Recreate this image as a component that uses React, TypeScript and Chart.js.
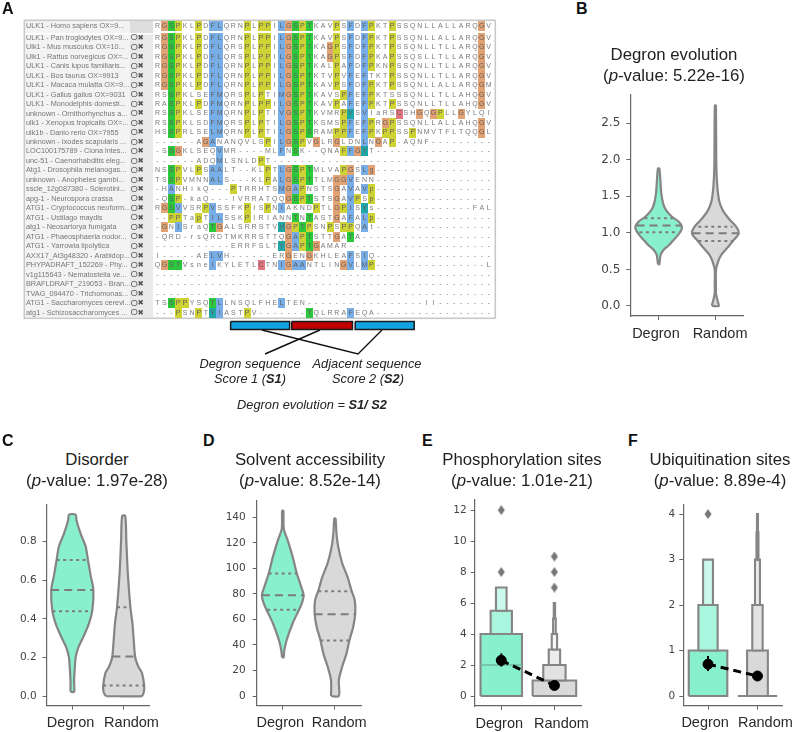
import React, { useEffect, useRef } from "react";
import { Chart, registerables } from "chart.js";

Chart.register(...registerables);

/* ---------- Panel A: alignment ---------- */
const sequenceNames = [
  "ULK1 - Homo sapiens OX=9...",
  "ULK1 - Pan troglodytes OX=9...",
  "Ulk1 - Mus musculus OX=10...",
  "Ulk1 - Rattus norvegicus OX=...",
  "ULK1 - Canis lupus familiaris...",
  "ULK1 - Bos taurus OX=9913",
  "ULK1 - Macaca mulatta OX=9...",
  "ULK1 - Gallus gallus OX=9031",
  "ULK1 - Monodelphis domesti...",
  "unknown - Ornithorhynchus a...",
  "ulk1 - Xenopus tropicalis OX=...",
  "ulk1b - Danio rerio OX=7955",
  "unknown - Ixodes scapularis ...",
  "LOC100175789 - Ciona intes...",
  "unc-51 - Caenorhabditis eleg...",
  "Atg1 - Drosophila melanogas...",
  "unknown - Anopheles gambi...",
  "sscle_12g087380 - Sclerotini...",
  "apg-1 - Neurospora crassa",
  "ATG1 - Cryptococcus neoform...",
  "ATG1 - Ustilago maydis",
  "atg1 - Neosartorya fumigata",
  "ATG1 - Phaeosphaeria nodor...",
  "ATG1 - Yarrowia lipolytica",
  "AXX17_At3g48320 - Arabidop...",
  "PHYPADRAFT_152269 - Phy...",
  "v1g115643 - Nematostella ve...",
  "BRAFLDRAFT_219053 - Bran...",
  "TVAG_094470 - Trichomonas...",
  "ATG1 - Saccharomyces cerevi...",
  "atg1 - Schizosaccharomyces ...",
];

const residueRows = [
  "RGSPKLPDFL QRNPLPPILG SPTKAVPSFD FPKTPSSQNL LALLARQGV",
  "RGSPKLPDFL QRNPLPPILG SPTKAVPSFD FPKTPSSQNL LALLARQGV",
  "RGSPKLPDFL QRSPLPPILG SPTKAGPSFD FPKTPSSQNL LTLLARQGV",
  "RGSPKLPDFL QRSPLPPILG SPTKAGPSFD FPKAPSSQSL LTLLARQGV",
  "RGSPKLPDFL QRNPLPPILG SPTKALPAFD FPKNPSSQNL LTLLARQGV",
  "RGSPKLPDFL QRNPLPPILG SPTKTVPVFE FTKTPSSQNL LTLLARQGV",
  "RGSPKLPDFL QRNPLPPILG SPTKAVPSFD FPKTPSSQNL LALLARQGM",
  "RSSPKLSEFM QRSPLPTIMG SPTKAVSPFE FPKTSSSQNL LTLLAHQGV",
  "RASPKLPDFM QRNPLPPILG SPTKAVPAFE FPKTPSSQNL LTLLAHQGV",
  "RSSPKLSEFM QRNPLPTIVG SPTKVMRPYS VIaRSCSHGQ GPLLGYLQI",
  "RSSPKLSDFM QRSPLPTILG SPTKSMSPFE FPRGPSSQNL LALLAHQGV",
  "HSSPRLSELM QRNPLPTILG SPSRAMPPFE FPKPPSSPNM VTFLTQQGL",
  "------AGAN ANQVLSPILG SPVGLRGLDN LNGAP-AQNF ---------",
  "-SSGKLSEQV MR----MLFN SK--QNAFFG YT-------- ---------",
  "------ADQM LSNLDPT--- ---------- ---------- ---------",
  "NSSPVLPSAA LT--KLPTLG SPTMLVAPGS Lg-------- ---------",
  "TSSPVMNNAL S---KLPALG SPTTLMGGVE NN-------- ---------",
  "-HANHikQ-- -PTRRHTSMG APNSTSGAVA Vp-------- ---------",
  "-QSP-kaQ-- -IVRRATQQG SPTSTSGAVP Sp-------- ---------",
  "RGSVVSRPVS SFKPISPNIA KNDPTLGPIS Ys-------- ------FAL",
  "--PPTapTIL SSKPIRIANN TNTASTGAFA Lp-------- ---------",
  "-GNISraQTG ALSRRSTVHG PTPSNPSPPQ At-------- ---------",
  "-QRD-rsQRD TMKRRSTTQG APTSTTGATA ---------- ---------",
  "---------- -ERRFSLTYG APTGAMAR-- ---------- ---------",
  "I-----AELV H------ERG ENGKHLEAFS IQ-------- ---------",
  "QGSTVsneIK YLETLCTNIG AANTLINGVL MP-------- --------L",
  "---------- ---------- ---------- ---------- ---------",
  "---------- ---------- ---------- ---------- ---------",
  "---------- ---------- ---------- ---------- ---------",
  "TSSPPYSQTL LNSQLFHELT EN-------- ---------I I--------",
  "---PSNPTYI ASTPV----- --TQLRRAFE QA-------- ---------",
];

const colourMasks = [
  ".ogy..y.bb ...y.yy.bo gyg...y.b. by..y..... .......o.",
  ".ogy..y.bb ...y.yy.bo gyg...y.b. by..y..... .......o.",
  ".ogy..y.bb ...y.yy.bo gyg..oy.b. by..y..... .......o.",
  ".ogy..y.bb ...y.yy.bo gyg..oy.b. by..y..... .......o.",
  ".ogy..y.bb ...y.yy.bo gyg...y.b. by..y..... .......o.",
  ".ogy..y.bb ...y.yy.bo gyg...y.b. b...y..... .......o.",
  ".ogy..y.bb ...y.yy.bo gyg...y.b. by..y..... .......o.",
  "..gy....bb ...y.y..bo gyg....yb. by........ .......o.",
  "..gy..y.bb ...y.yy.bo gyg...y.b. by..y..... .......o.",
  "..gy....bb ...y.y..bo gyg....yc. b....r..o. oy..o....",
  "..gy....bb ...y.y..bo gyg....yb. by.oy..... .......o.",
  "..gy....bb ...y.y..bo gyg...yyb. by.yy..y.. .......o.",
  ".......ob. ......y.bo gy.o..o... b.o.y..... .........",
  "..go.....b ........b. g......ybo c......... .........",
  ".........b .....y.... .......... .......... .........",
  "..gy..y.bb ......y.bo gyg....yo. bo........ .........",
  "..gy....bb ......y.bo gyg...oob. .......... .........",
  "..b....... .y......bo by....o.b. by........ .........",
  "..gy...... .........o gyg...o.by .y........ .........",
  ".ogb...yb. ...y..y.b. ...y..oyb. c......... .........",
  "..yy..y.bb ...y...... g.g...o.b. by........ .........",
  ".o.b....go ........co ygy..y.yy. b......... .........",
  ".......... .........o byg...o.g. .......... .........",
  ".......... ........co bygo...... .......... .........",
  "........bb .........o ..o.....b. b......... .........",
  ".ogg....b. .....r..bo bb.....ob. by........ .........",
  ".......... .......... .......... .......... .........",
  ".......... .......... .......... .......... .........",
  ".......... .......... .......... .......... .........",
  "..gyy...gb ........b. .......... .......... .........",
  "...y..y.cb ...y...... ..g.....b. .......... .........",
];

const residueColours: Record<string, string> = {
  o: "#e2a273",
  g: "#2cc83c",
  y: "#cfd235",
  b: "#78aee8",
  c: "#20a8a8",
  r: "#e2757f",
};

const blockColumns = [
  [10.6, 19.15],
  [19.45, 28.25],
  [28.65, 37.2],
];
const blockColours = ["#12a4e2", "#c00000", "#12a4e2"];

/* ---------- Panels B to D: violins ---------- */
const bDegronLevels = [0.57, 0.62, 0.7, 0.77, 0.83, 0.9, 0.97, 1.04, 1.085, 1.15, 1.22, 1.31, 1.4, 1.54, 1.72, 1.88];
const bDegronWidths = [0.012, 0.02, 0.035, 0.09, 0.18, 0.26, 0.34, 0.4, 0.41, 0.36, 0.235, 0.13, 0.08, 0.047, 0.03, 0.012];
const bRandomLevels = [0, 0.04, 0.1, 0.17, 0.3, 0.5, 0.63, 0.7, 0.77, 0.83, 0.9, 0.97, 1.02, 1.085, 1.15, 1.22, 1.31, 1.43, 1.63, 1.9, 2.74];
const bRandomWidths = [0.06, 0.05, 0.03, 0.012, 0.01, 0.012, 0.06, 0.105, 0.18, 0.25, 0.32, 0.4, 0.41, 0.365, 0.29, 0.21, 0.13, 0.07, 0.035, 0.018, 0.009];
const bDegronQuartiles = [[1.01, 0.34], [1.1, 0.39], [1.2, 0.25]];
const bRandomQuartiles = [[0.89, 0.3], [0.995, 0.4], [1.085, 0.3]];

const cDegronLevels = [0.022, 0.08, 0.15, 0.2, 0.25, 0.31, 0.377, 0.445, 0.55, 0.62, 0.705, 0.775, 0.843, 0.912, 0.94];
const cDegronWidths = [0.035, 0.035, 0.05, 0.065, 0.115, 0.22, 0.325, 0.39, 0.41, 0.36, 0.305, 0.26, 0.16, 0.08, 0.065];
const cRandomLevels = [0, 0.02, 0.05, 0.12, 0.15, 0.2, 0.29, 0.377, 0.46, 0.636, 0.81, 0.933];
const cRandomWidths = [0.35, 0.39, 0.4, 0.355, 0.29, 0.225, 0.195, 0.17, 0.13, 0.08, 0.05, 0.03];
const cDegronQuartiles = [[0.44, 0.385], [0.55, 0.41], [0.705, 0.305]];
const cRandomQuartiles = [[0.055, 0.4], [0.205, 0.22], [0.46, 0.13]];

const dDegronLevels = [30.3, 36, 44, 57, 67, 72.6, 79, 86, 96, 109, 122, 131, 145];
const dDegronWidths = [0.015, 0.03, 0.075, 0.19, 0.305, 0.365, 0.4, 0.35, 0.27, 0.19, 0.095, 0.02, 0.012];
const dRandomLevels = [0, 12.5, 23, 33, 44, 54, 65, 75, 83, 93.5, 104, 117, 127.5, 139];
const dRandomWidths = [0.075, 0.075, 0.14, 0.22, 0.28, 0.35, 0.39, 0.38, 0.315, 0.24, 0.14, 0.063, 0.03, 0.012];
const dDegronQuartiles = [[67.5, 0.3], [79, 0.4], [96, 0.27]];
const dRandomQuartiles = [[43.5, 0.28], [64, 0.39], [82, 0.32]];

/* ---------- Panels E and F: letter-value boxes ---------- */
const eDegronBoxes = [[0, 4, 0.39], [4, 5.5, 0.2], [5.5, 7, 0.1]];
const eRandomBoxes = [[0, 1, 0.41], [1, 2, 0.21], [2, 3, 0.107], [3, 4, 0.05], [4, 5, 0.025], [5, 6, 0.012]];
const eDegronOutliers = [8, 12];
const eRandomOutliers = [7, 8, 9];
const eMedian = 2;
const eMeans = [2.3, 0.68];
const eDegronError = [1.9, 2.75];

const fDegronBoxes = [[0, 1, 0.39], [1, 2, 0.195], [2, 3, 0.1]];
const fRandomBoxes = [[0, 1, 0.21], [1, 2, 0.105], [2, 3, 0.05], [3, 3.6, 0.02], [3.6, 4, 0.01]];
const fDegronOutliers = [4];
const fRandomFloorWidth = 0.4;
const fMeans = [0.7, 0.44];
const fDegronError = [0.55, 0.88];

const categories = ["Degron", "Random"];
const bTicks = ["0.0", "0.5", "1.0", "1.5", "2.0", "2.5"];
const cTicks = ["0.0", "0.2", "0.4", "0.6", "0.8"];
const dTicks = ["0", "20", "40", "60", "80", "100", "120", "140"];
const eTicks = ["0", "2", "4", "6", "8", "10", "12"];
const fTicks = ["0", "1", "2", "3", "4"];

const MINT = "#88f0cd";
const GREY_FILL = "#d9d9d9";
const mintShades = ["#88f0cd", "#aaf5dd", "#ccf9ec"];
const greyShades = ["#d9d9d9", "#e2e2e2", "#ececec", "#f6f6f6", "#f6f6f6", "#f6f6f6"];
const EDGE = "#858585";

/* ---------- Helpers ---------- */
const outline = (centre: number, levels: number[], widths: number[]) => {
  const left = levels.map((y, i) => ({ x: centre - widths[i], y }));
  const right = levels.map((y, i) => ({ x: centre + widths[i], y })).reverse();
  return [...left, ...right, left[0]];
};

const violinSets = (centre: number, levels: number[], widths: number[], quartiles: number[][], fill: string) => [
  {
    data: outline(centre, levels, widths),
    showLine: true,
    fill: "shape",
    backgroundColor: fill,
    borderColor: EDGE,
    borderWidth: 2.2,
    tension: 0.28,
    pointRadius: 0,
  },
  ...quartiles.map(([y, w], i) => ({
    data: [{ x: centre - w, y }, { x: centre + w, y }],
    showLine: true,
    borderColor: "#7c7c7c",
    borderWidth: 2,
    borderDash: i === 1 ? [8, 5] : [3, 3.5],
    pointRadius: 0,
    fill: false,
  })),
];

const boxSets = (centre: number, boxes: number[][], shades: string[]) =>
  boxes.map(([lo, hi, w], i) => ({
    data: [
      { x: centre - w, y: lo },
      { x: centre - w, y: hi },
      { x: centre + w, y: hi },
      { x: centre + w, y: lo },
      { x: centre - w, y: lo },
    ],
    showLine: true,
    fill: "shape",
    backgroundColor: shades[i],
    borderColor: EDGE,
    borderWidth: 2.1,
    tension: 0,
    pointRadius: 0,
  }));

const thinDiamond = () => {
  const c = document.createElement("canvas");
  c.width = 8;
  c.height = 10;
  const g = c.getContext("2d")!;
  g.fillStyle = "#777777";
  g.beginPath();
  g.moveTo(4, 0);
  g.lineTo(7.5, 5);
  g.lineTo(4, 10);
  g.lineTo(0.5, 5);
  g.closePath();
  g.fill();
  return c;
};

const outlierSet = (centre: number, values: number[]) => ({
  data: values.map((y) => ({ x: centre, y })),
  showLine: false,
  pointStyle: thinDiamond(),
  pointRadius: 5,
});

const meanSets = (means: number[], error: number[]) => [
  {
    data: [{ x: 0, y: means[0] }, { x: 1, y: means[1] }],
    showLine: true,
    borderColor: "#000000",
    borderWidth: 3,
    borderDash: [8, 5],
    pointRadius: 0,
    fill: false,
  },
  {
    data: [{ x: 0, y: error[0] }, { x: 0, y: error[1] }],
    showLine: true,
    borderColor: "#000000",
    borderWidth: 2,
    pointRadius: 0,
    fill: false,
  },
  {
    data: [{ x: 0, y: means[0] }, { x: 1, y: means[1] }],
    showLine: false,
    backgroundColor: "#000000",
    borderColor: "#000000",
    pointRadius: 5,
  },
];

const inOrder = (sets: any[]) => sets.map((s, i) => ({ clip: false, order: sets.length - i, ...s }));

type Frame = {
  box: number[];
  left: number;
  right: number;
  top: number;
  bottom: number;
  yMin: number;
  yMax: number;
  labelAt: number[];
  tickFont: number;
  tickPad: number;
};

const makePanel = (canvas: HTMLCanvasElement, frame: Frame, ticks: string[], datasets: any[]) => {
  const [cx, cy, cw, ch] = frame.box;
  const xSlots = [
    { value: 0, label: "", mark: true },
    { value: frame.labelAt[0], label: categories[0], mark: false },
    { value: 1, label: "", mark: true },
    { value: frame.labelAt[1], label: categories[1], mark: false },
  ].sort((a, b) => a.value - b.value);
  return new Chart(canvas, {
    type: "scatter",
    data: { datasets: inOrder(datasets) },
    options: {
      animation: false,
      responsive: false,
      devicePixelRatio: 1,
      layout: {
        padding: { left: 0, top: frame.top - cy, right: cx + cw - frame.right, bottom: 0 },
      },
      plugins: { legend: { display: false }, tooltip: { enabled: false }, title: { display: false } },
      scales: {
        x: {
          type: "linear",
          min: -0.5,
          max: 1.5,
          afterFit: (s: any) => {
            s.height = cy + ch - frame.bottom;
          },
          afterBuildTicks: (s: any) => {
            s.ticks = xSlots.map((t) => ({ value: t.value }));
          },
          grid: {
            drawOnChartArea: false,
            drawTicks: true,
            tickLength: 4,
            tickColor: (c: any) => (xSlots[c.index]?.mark ? "#666" : "rgba(0,0,0,0)"),
            tickWidth: 1,
          },
          border: { display: true, color: "#666", width: 1.2 },
          ticks: {
            autoSkip: false,
            maxRotation: 0,
            padding: 5,
            color: "#2a2a2a",
            font: { family: "Liberation Sans", size: 14.5 },
            callback: (_v: any, i: number) => xSlots[i].label,
          },
        },
        y: {
          type: "linear",
          min: frame.yMin,
          max: frame.yMax,
          afterFit: (s: any) => {
            s.width = frame.left - cx;
          },
          afterBuildTicks: (s: any) => {
            s.ticks = ticks.map((t) => ({ value: Number(t) }));
          },
          grid: { drawOnChartArea: false, drawTicks: true, tickLength: 4, tickColor: "#666", tickWidth: 1 },
          border: { display: true, color: "#666", width: 1.2 },
          ticks: {
            autoSkip: false,
            padding: frame.tickPad,
            color: "#444",
            font: { family: "DejaVu Sans", size: frame.tickFont },
            callback: (v: any) => ticks.find((t) => Number(t) === Number(v)) ?? "",
          },
        },
      },
    },
  } as any);
};

const frameB: Frame = { box: [580, 75, 215, 275], left: 630.3, right: 743.7, top: 95, bottom: 316, yMin: -0.137, yMax: 2.886, labelAt: [-0.048, 1.083], tickFont: 12, tickPad: 6 };
const frameC: Frame = { box: [0, 485, 200, 247], left: 46.6, right: 149.4, top: 505, bottom: 705.7, yMin: -0.05, yMax: 0.99, labelAt: [-0.035, 1.152], tickFont: 10.5, tickPad: 6 };
const frameD: Frame = { box: [200, 480, 210, 252], left: 256.7, right: 361, top: 501, bottom: 705.7, yMin: -7.6, yMax: 152.8, labelAt: [-0.047, 1.082], tickFont: 10.5, tickPad: 7 };
const frameE: Frame = { box: [420, 480, 190, 252], left: 474.7, right: 581, top: 500, bottom: 706, yMin: -0.645, yMax: 12.65, labelAt: [-0.038, 1.132], tickFont: 10.5, tickPad: 4 };
const frameF: Frame = { box: [610, 485, 190, 247], left: 683.3, right: 787, top: 505, bottom: 705.7, yMin: -0.213, yMax: 4.2, labelAt: [-0.058, 1.16], tickFont: 10.5, tickPad: 4 };

/* ---------- Panel A chart ---------- */
const COL0 = 157.5;
const COL_W = 6.9;
const ROW1 = 28.22;
const ROW_H = 9.48;
const A_INSET = 10;
const A_W = 570;
const A_H = 360;
const rowValue = (i: number) => (i === 0 ? -0.2 : i);
const clean = (s: string) => s.replace(/ /g, "");
const xOfPixel = (p: number) => (p - COL0) / COL_W;
const yOfPixel = (p: number) => (p - ROW1) / ROW_H;

const cellImage = (colour: string) => {
  const c = document.createElement("canvas");
  c.width = 7;
  c.height = 10;
  const g = c.getContext("2d")!;
  g.fillStyle = colour;
  g.fillRect(0, 0, 7, 10);
  return c;
};

const alignmentPlugin = {
  id: "alignment",
  beforeDatasetsDraw(chart: any) {
    const g = chart.ctx;
    g.save();
    g.fillStyle = "#f3f3f3";
    g.fillRect(25, 21, 105, 296);
    g.fillStyle = "#e9e9e9";
    g.fillRect(130, 21, 23, 296);
    g.fillStyle = "#dedede";
    g.fillRect(130, 21, 23, 12);
    g.fillStyle = "#ffffff";
    g.fillRect(25, 33, 128, 1.6);
    g.strokeStyle = "#c9c9c9";
    g.lineWidth = 1.6;
    g.strokeRect(24.3, 20.3, 471, 298);
    g.restore();
  },
  afterDatasetsDraw(chart: any) {
    const g = chart.ctx;
    const sx = chart.scales.x;
    const sy = chart.scales.y;
    g.save();
    g.textBaseline = "middle";
    residueRows.forEach((row, i) => {
      const y = sy.getPixelForValue(rowValue(i));
      g.textAlign = "left";
      g.font = "7.3px 'Liberation Sans'";
      g.fillStyle = "#777777";
      g.fillText(sequenceNames[i], 26, y);
      if (i > 0) {
        g.fillStyle = "#666666";
        g.font = "9.5px 'Liberation Sans'";
        g.fillText("O", 130.5, y);
        g.font = "bold 7.5px 'DejaVu Sans'";
        g.fillStyle = "#555555";
        g.fillText("✖", 137.5, y);
      }
      g.textAlign = "center";
      g.font = "7px 'Liberation Sans'";
      const letters = clean(row);
      const mask = clean(colourMasks[i]);
      for (let c = 0; c < letters.length; c++) {
        g.fillStyle = mask[c] !== "." ? "#5f5f5f" : "#7a7a7a";
        g.fillText(letters[c], sx.getPixelForValue(c), y);
      }
    });
    g.restore();
  },
};

const alignmentDatasets = () => {
  const cellSets = Object.keys(residueColours).map((code) => {
    const data: { x: number; y: number }[] = [];
    colourMasks.forEach((m, i) => {
      clean(m)
        .split("")
        .forEach((ch, c) => {
          if (ch === code) data.push({ x: c, y: rowValue(i) });
        });
    });
    return { data, showLine: false, pointStyle: cellImage(residueColours[code]), pointRadius: 5 };
  });
  const blockTop = yOfPixel(321.5);
  const blockBottom = yOfPixel(329.5);
  const blocks = blockColumns.map(([a, b], i) => ({
    data: [
      { x: a, y: blockTop },
      { x: b, y: blockTop },
      { x: b, y: blockBottom },
      { x: a, y: blockBottom },
      { x: a, y: blockTop },
    ],
    showLine: true,
    fill: "shape",
    backgroundColor: blockColours[i],
    borderColor: "#1a1a1a",
    borderWidth: 1.5,
    pointRadius: 0,
  }));
  const connector = (pts: number[][]) => ({
    data: pts.map(([px, py]) => ({ x: xOfPixel(px), y: yOfPixel(py) })),
    showLine: true,
    borderColor: "#111111",
    borderWidth: 1.4,
    pointRadius: 0,
    fill: false,
  });
  return [...cellSets, connector([[262, 330], [358, 354], [382, 330]]), connector([[320, 330], [265, 354]]), ...blocks];
};

const abs = (left: number, top: number): React.CSSProperties => ({ position: "absolute", left, top });

const Title = ({ x, name, p }: { x: number; name: string; p: string }) => {
  const common: React.CSSProperties = {
    position: "absolute",
    left: x - 110,
    width: 220,
    textAlign: "center",
    font: "16.8px 'Liberation Sans'",
    color: "#222",
    whiteSpace: "nowrap",
    lineHeight: "20px",
  };
  const offset = x > 600 && x < 700 ? -405 : 0;
  return (
    <>
      <div style={{ ...common, top: 450 + offset }}>{name}</div>
      <div style={{ ...common, top: 470.5 + offset }}>
        (<i>p</i>-value: {p})
      </div>
    </>
  );
};

const Letter = ({ x, y, t }: { x: number; y: number; t: string }) => (
  <div style={{ ...abs(x, y), font: "bold 16px 'Liberation Sans'", color: "#111", lineHeight: "18px" }}>{t}</div>
);

const Note = ({ x, y, children }: { x: number; y: number; children: React.ReactNode }) => (
  <div
    style={{
      position: "absolute",
      left: x - 100,
      top: y,
      width: 200,
      textAlign: "center",
      font: "italic 12.8px 'Liberation Sans'",
      color: "#222",
      lineHeight: "16px",
      whiteSpace: "nowrap",
    }}
  >
    {children}
  </div>
);

export default function App() {
  const aRef = useRef<HTMLCanvasElement>(null);
  const bRef = useRef<HTMLCanvasElement>(null);
  const cRef = useRef<HTMLCanvasElement>(null);
  const dRef = useRef<HTMLCanvasElement>(null);
  const eRef = useRef<HTMLCanvasElement>(null);
  const fRef = useRef<HTMLCanvasElement>(null);

  useEffect(() => {
    const charts: Chart[] = [];
    charts.push(
      new Chart(aRef.current!, {
        type: "scatter",
        data: { datasets: inOrder(alignmentDatasets()) },
        plugins: [alignmentPlugin],
        options: {
          animation: false,
          responsive: false,
          devicePixelRatio: 1,
          layout: { padding: A_INSET },
          plugins: { legend: { display: false }, tooltip: { enabled: false } },
          scales: {
            x: { type: "linear", display: false, min: xOfPixel(A_INSET), max: xOfPixel(A_W - A_INSET) },
            y: { type: "linear", display: false, reverse: true, min: yOfPixel(A_INSET), max: yOfPixel(A_H - A_INSET) },
          },
        },
      } as any)
    );
    charts.push(
      makePanel(bRef.current!, frameB, bTicks, [
        ...violinSets(0, bDegronLevels, bDegronWidths, bDegronQuartiles, MINT),
        ...violinSets(1, bRandomLevels, bRandomWidths, bRandomQuartiles, GREY_FILL),
      ])
    );
    charts.push(
      makePanel(cRef.current!, frameC, cTicks, [
        ...violinSets(0, cDegronLevels, cDegronWidths, cDegronQuartiles, MINT),
        ...violinSets(1, cRandomLevels, cRandomWidths, cRandomQuartiles, GREY_FILL),
      ])
    );
    charts.push(
      makePanel(dRef.current!, frameD, dTicks, [
        ...violinSets(0, dDegronLevels, dDegronWidths, dDegronQuartiles, MINT),
        ...violinSets(1, dRandomLevels, dRandomWidths, dRandomQuartiles, GREY_FILL),
      ])
    );
    charts.push(
      makePanel(eRef.current!, frameE, eTicks, [
        ...boxSets(1, eRandomBoxes, greyShades),
        ...boxSets(0, eDegronBoxes, mintShades),
        {
          data: [{ x: -0.39, y: eMedian }, { x: 0.39, y: eMedian }],
          showLine: true,
          borderColor: "#6fb8a0",
          borderWidth: 1.4,
          pointRadius: 0,
          fill: false,
        },
        outlierSet(0, eDegronOutliers),
        outlierSet(1, eRandomOutliers),
        ...meanSets(eMeans, eDegronError),
      ])
    );
    charts.push(
      makePanel(fRef.current!, frameF, fTicks, [
        ...boxSets(1, fRandomBoxes, greyShades),
        {
          data: [{ x: 1 - fRandomFloorWidth, y: 0 }, { x: 1 + fRandomFloorWidth, y: 0 }],
          showLine: true,
          borderColor: EDGE,
          borderWidth: 2.1,
          pointRadius: 0,
          fill: false,
        },
        ...boxSets(0, fDegronBoxes, mintShades),
        outlierSet(0, fDegronOutliers),
        ...meanSets(fMeans, fDegronError),
      ])
    );
    return () => charts.forEach((c) => c.destroy());
  }, []);

  const place = (f: Frame): React.CSSProperties => ({ ...abs(f.box[0], f.box[1]) });

  return (
    <div style={{ position: "fixed", left: 0, top: 0, width: 800, height: 732, background: "#fff", overflow: "hidden" }}>
      <canvas ref={aRef} width={A_W} height={A_H} style={abs(0, 0)} />
      <canvas ref={bRef} width={frameB.box[2]} height={frameB.box[3]} style={place(frameB)} />
      <canvas ref={cRef} width={frameC.box[2]} height={frameC.box[3]} style={place(frameC)} />
      <canvas ref={dRef} width={frameD.box[2]} height={frameD.box[3]} style={place(frameD)} />
      <canvas ref={eRef} width={frameE.box[2]} height={frameE.box[3]} style={place(frameE)} />
      <canvas ref={fRef} width={frameF.box[2]} height={frameF.box[3]} style={place(frameF)} />

      <Letter x={2} y={0} t="A" />
      <Letter x={576} y={0} t="B" />
      <Letter x={2} y={432} t="C" />
      <Letter x={203} y={432} t="D" />
      <Letter x={422} y={432} t="E" />
      <Letter x={628} y={432} t="F" />

      <Title x={674} name="Degron evolution" p="5.22e-16" />
      <Title x={97} name="Disorder" p="1.97e-28" />
      <Title x={310} name="Solvent accessibility" p="8.52e-14" />
      <Title x={522} name="Phosphorylation sites" p="1.01e-21" />
      <Title x={720} name="Ubiquitination sites" p="8.89e-4" />

      <Note x={250} y={356}>Degron sequence</Note>
      <Note x={250} y={371}>
        Score 1 (<b>S1</b>)
      </Note>
      <Note x={367} y={356}>Adjacent sequence</Note>
      <Note x={368} y={371}>
        Score 2 (<b>S2</b>)
      </Note>
      <Note x={312} y={397}>
        Degron evolution = <b>S1/ S2</b>
      </Note>
    </div>
  );
}
